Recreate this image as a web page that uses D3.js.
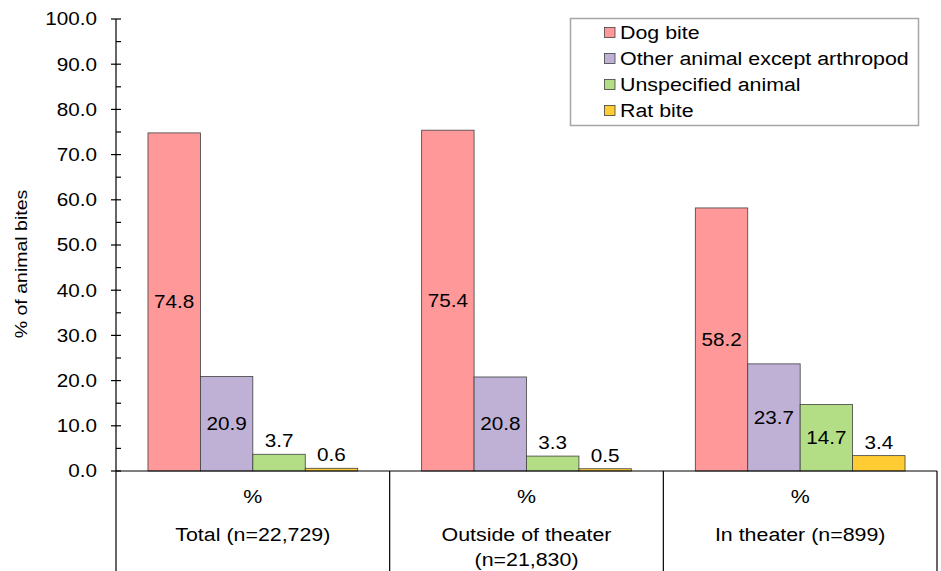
<!DOCTYPE html>
<html>
<head>
<meta charset="utf-8">
<script src="https://cdn.jsdelivr.net/npm/d3@7"></script>
<style>
  html, body { margin: 0; padding: 0; background: #fff; }
  svg { display: block; font-family: "Liberation Sans", Arial, sans-serif; }
</style>
</head>
<body>
<svg id="chart" width="941" height="571"></svg>
<script>
// Share of animal bites by exposure location and animal type
const groups = ["Total (n=22,729)", "Outside of theater\n(n=21,830)", "In theater (n=899)"];
const groupKeys = ["total", "outside", "inTheater"];
const seriesNames = ["Dog bite", "Other animal except arthropod", "Unspecified animal", "Rat bite"];
const seriesColors = ["#FF9999", "#BFB1D5", "#B3DE86", "#FFCC33"];
const dogBite = [74.8, 75.4, 58.2];
const otherAnimal = [20.9, 20.8, 23.7];
const unspecifiedAnimal = [3.7, 3.3, 14.7];
const ratBite = [0.6, 0.5, 3.4];
const yTicks = [0, 10, 20, 30, 40, 50, 60, 70, 80, 90, 100];
const yMinorTicks = [5, 15, 25, 35, 45, 55, 65, 75, 85, 95];

const seriesValues = [dogBite, otherAnimal, unspecifiedAnimal, ratBite];

const svg = d3.select("#chart");
const margin = { left: 116, right: 4, top: 19, bottom: 100 };
const W = 941, H = 571;
const plotBottom = H - margin.bottom; // 471
const plotRight = W - margin.right;
const fs = 18;
const fsLarge = 18.6;
const stretch = 1.15; // slightly widened glyphs

// Place a horizontally widened text label at (x, y)
function label(parent, x, y, str, anchor, opts = {}) {
  const g = parent.append("g")
    .attr("transform", `translate(${x},${y})${opts.rotate ? ` rotate(${opts.rotate})` : ""} scale(${stretch},1)`);
  return g.append("text")
    .attr("x", 0).attr("y", 0)
    .attr("dy", opts.dy || "0")
    .attr("text-anchor", anchor)
    .attr("font-size", opts.size || fs)
    .attr("fill", "#000")
    .text(str);
}

const x0 = d3.scaleBand().domain(groupKeys).range([margin.left, plotRight]).paddingInner(0).paddingOuter(0);
const x1 = d3.scaleBand().domain(d3.range(seriesNames.length))
  .range([0, x0.bandwidth()]).paddingInner(0).paddingOuter(0.61);
const y = d3.scaleLinear().domain([0, 100]).range([plotBottom, margin.top]);

// Bars
seriesValues.forEach((vals, si) => {
  svg.append("g").selectAll("rect")
    .data(vals)
    .join("rect")
    .attr("x", (d, gi) => x0(groupKeys[gi]) + x1(si))
    .attr("y", d => y(d))
    .attr("width", x1.bandwidth())
    .attr("height", d => y(0) - y(d))
    .attr("fill", seriesColors[si])
    .attr("stroke", "#404040")
    .attr("stroke-width", 0.8);
});

// Value labels: centred inside tall bars, above short ones
const valueLayer = svg.append("g");
seriesValues.forEach((vals, si) => {
  vals.forEach((d, gi) => {
    const cx = x0(groupKeys[gi]) + x1(si) + x1.bandwidth() / 2;
    const cy = d > 10 ? (y(d) + y(0)) / 2 : y(d) - 7;
    label(valueLayer, cx, cy, d.toFixed(1), "middle", { dy: d > 10 ? "0.35em" : "0" });
  });
});

// Y axis with major and minor ticks
const yAxis = svg.append("g").attr("transform", `translate(${margin.left},0)`);
yAxis.append("line")
  .attr("x1", 0).attr("x2", 0).attr("y1", y(100)).attr("y2", H)
  .attr("stroke", "#000").attr("stroke-width", 1.2);
yAxis.selectAll(".major").data(yTicks).join("line")
  .attr("x1", -5).attr("x2", 5)
  .attr("y1", d => y(d)).attr("y2", d => y(d))
  .attr("stroke", "#000").attr("stroke-width", 1.2);
yAxis.selectAll(".minor").data(yMinorTicks).join("line")
  .attr("x1", 0).attr("x2", 5)
  .attr("y1", d => y(d)).attr("y2", d => y(d))
  .attr("stroke", "#000").attr("stroke-width", 1.2);
yTicks.forEach(t => label(yAxis, -19, y(t), t.toFixed(1), "end", { dy: "0.35em" }));

// Y axis title
label(svg, 27, (y(0) + y(100)) / 2 + 19, "% of animal bites", "middle", { rotate: -90, size: 17 });

// X axis baseline and category dividers
svg.append("line")
  .attr("x1", margin.left).attr("x2", plotRight)
  .attr("y1", y(0)).attr("y2", y(0))
  .attr("stroke", "#000").attr("stroke-width", 1.2);
groupKeys.forEach(k => {
  const xr = x0(k) + x0.bandwidth();
  svg.append("line")
    .attr("x1", xr).attr("x2", xr).attr("y1", y(0)).attr("y2", H)
    .attr("stroke", "#000").attr("stroke-width", 1.2);
});

// Category labels: "%" row then group names
const catLayer = svg.append("g");
groupKeys.forEach((k, i) => {
  const cx = x0(k) + x0.bandwidth() / 2;
  label(catLayer, cx, 503, "%", "middle", { size: fsLarge });
  groups[i].split("\n").forEach((ln, li) => {
    label(catLayer, cx, 541 + li * 25, ln, "middle", { size: fsLarge });
  });
});

// Legend
const legend = svg.append("g");
legend.append("rect")
  .attr("x", 570.5).attr("y", 18.5).attr("width", 348).attr("height", 107)
  .attr("fill", "#fff").attr("stroke", "#a6a6a6").attr("stroke-width", 1.5);
seriesNames.forEach((name, i) => {
  const cy = 32.5 + i * 26;
  legend.append("rect")
    .attr("x", 604.5).attr("y", cy - 5).attr("width", 10.5).attr("height", 10)
    .attr("fill", seriesColors[i]).attr("stroke", "#404040").attr("stroke-width", 0.8);
  label(legend, 620, cy, name, "start", { dy: "0.35em", size: fsLarge });
});
</script>
</body>
</html>
